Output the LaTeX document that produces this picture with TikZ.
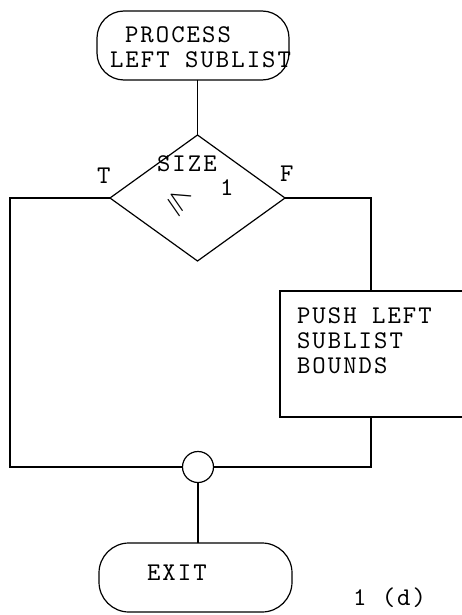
\documentclass[tikz,border=0pt]{standalone}
\usepackage{amssymb}
\usepackage{fontspec}
\newfontfamily\tw[LetterSpace=8]{lmmono10-regular.otf}
\usetikzlibrary{shapes.geometric}
\begin{document}
\begin{tikzpicture}[x=1pt,y=-1pt,
  line width=1.2pt,
  term/.style={draw, rectangle, rounded corners=27pt, inner sep=0pt, outer sep=0pt},
  dec/.style={draw, diamond, inner sep=0pt, outer sep=0pt},
  proc/.style={draw, rectangle, inner sep=0pt, outer sep=0pt},
  joinc/.style={draw, circle, inner sep=0pt, outer sep=0pt, minimum size=31pt},
  txt/.style={inner sep=0pt, outer sep=0pt, anchor=base west, font=\tw\fontsize{25.5}{27}\selectfont}
]
\useasboundingbox (0,0) rectangle (462,615);
\fill[white] (0,0) rectangle (462,615);
\clip (0,0) rectangle (462,615);

% start terminal
\node[term, minimum width=192pt, minimum height=69pt] (start) at (193,45.5) {};
\node[txt] (p1) at (125,43) {PROCESS};
\node[txt] (p2) at (110,68) {LEFT SUBLIST};

% decision
\node[dec, minimum width=175pt, minimum height=126pt] (dec) at (197.5,198) {};
\node[txt] (s1) at (157,171) {SIZE};
\node[inner sep=0pt, rotate=-30, font=\fontsize{31}{31}\selectfont] (le) at (178,202) {$\leqslant$};
\node[txt] (s2) at (220,195) {1};
\node[txt] (tl) at (97,183) {T};
\node[txt] (fl) at (280,181) {F};

% process box
\node[proc, minimum width=220pt, minimum height=126pt, anchor=north west] (box) at (280,291) {};
\node[txt] (b1) at (297,323) {PUSH LEFT};
\node[txt] (b2) at (297,348) {SUBLIST};
\node[txt] (b3) at (297,373) {BOUNDS};

% join circle
\node[joinc] (join) at (198,467) {};

% exit terminal
\node[term, rounded corners=30pt, minimum width=193pt, minimum height=69pt] (exit) at (195.5,577.5) {};
\node[txt] (e1) at (147,580) {EXIT};
\node[txt] (fig) at (353,605) {1 (d)};

% connectors
\coordinate (lc) at (10,198);
\coordinate (rt) at (371,291);
\draw (dec.north |- start.south) -- (dec.north);
\draw (dec.west) -- (lc) |- (join.west);
\draw (dec.east) -| (rt);
\draw (box.south -| rt) |- (join.east);
\draw (join.south) -- (join.south |- exit.north);
\end{tikzpicture}
\end{document}
